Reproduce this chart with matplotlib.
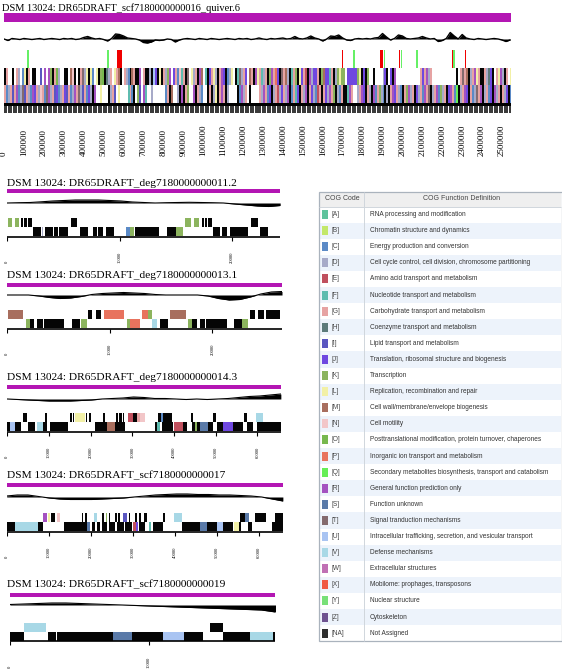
import numpy as np
import matplotlib
matplotlib.use('Agg')
import matplotlib.pyplot as plt
from matplotlib.patches import Rectangle

W, H = 567, 669
SERIF = 'Liberation Serif'
SANS = 'Liberation Sans'
MAGENTA = '#b316b3'

# ---- COG legend ----
cog_codes = ['A', 'B', 'C', 'D', 'E', 'F', 'G', 'H', 'I', 'J', 'K', 'L', 'M', 'N',
             'O', 'P', 'Q', 'R', 'S', 'T', 'U', 'V', 'W', 'X', 'Y', 'Z', 'NA']
cog_names = ['RNA processing and modification',
             'Chromatin structure and dynamics',
             'Energy production and conversion',
             'Cell cycle control, cell division, chromosome partitioning',
             'Amino acid transport and metabolism',
             'Nucleotide transport and metabolism',
             'Carbohydrate transport and metabolism',
             'Coenzyme transport and metabolism',
             'Lipid transport and metabolism',
             'Translation, ribosomal structure and biogenesis',
             'Transcription',
             'Replication, recombination and repair',
             'Cell wall/membrane/envelope biogenesis',
             'Cell motility',
             'Posttranslational modification, protein turnover, chaperones',
             'Inorganic ion transport and metabolism',
             'Secondary metabolites biosynthesis, transport and catabolism',
             'General function prediction only',
             'Function unknown',
             'Signal tranduction mechanisms',
             'Intracellular trafficking, secretion, and vesicular transport',
             'Defense mechanisms',
             'Extracellular structures',
             'Mobilome: prophages, transposons',
             'Nuclear structure',
             'Cytoskeleton',
             'Not Assigned']
cog_colors = ['#5fc39c', '#c3e86a', '#5b8ac6', '#a7aac8', '#c0505e', '#5fbcb0',
              '#e6a3a3', '#5d7b7b', '#5a56c0', '#6f48e0', '#8cb45e', '#f2f0a6',
              '#a86e5e', '#f2c6c8', '#78b84e', '#e8735e', '#66ee55', '#a452c0',
              '#5a7aa8', '#846a6e', '#a9c4f2', '#a8d8e6', '#c070b4', '#f05a44',
              '#78e078', '#6e5290', '#2e2e2e']
color_of = dict(zip(cog_codes, cog_colors))
color_of['NA'] = '#050505'   # genes without COG are drawn black in the tracks
color_of['#'] = color_of['NA']

# ---- main contig (one character = one 10 kb bin, '.' = no gene, '#' = NA) ----
main_title = 'DSM 13024: DR65DRAFT_scf7180000000016_quiver.6'
main_len = 2545000
main_bin = 10000
main_fwd = ("#G..#.GD.C" "L#G.##..I." "R.RK#GOD.." "##.MN#.#GT" "DL#LC.L#KO"
            "#HDG.LGM#." "GDC#MG##R." "G##D#UJ#L#" "GDKR.JGCNF" "G#T.LDG#RM"
            ".F#JGLD#GR" "J#CDL.#FTD" "GJ.MG#RLGF" "DG#KRGPJ#T" "GMD#FGK#LJ"
            "GE#RDJJG#K" "MJJFG#DKLK" "K.JJJJJKL#" "J#K..#...." "DJ#.J#R..."
            ".........G" "JGRDG....." ".......#.G" "TGM#DGRLG#" "#GDHJ#.GLR"
            "D#G.L")
main_rev = ("GCDGIGRCDT" "IGDCRJGDNG" "CTRDGIJCDG" "JIGCDRGTDI" "GCJD#R..L."
            "..#DGI.L.." "..FGC#.KI." "RF..D....." ".CG#M..D#R" "#GK..R#GDC"
            "..#G#DL#GR" "G#D....#CR" "DG.#....GD" "RGCJ#DGEDJ" "GDR#CGFJ#G"
            "DR#GJDCEG#" "GJDRGK#DCG" "##FRG..DGR" "J#GD#RCGKD" "C#D#GRJGDC"
            "#GKRDG#JDG" "CRGT#DGRCK" "DG#JRGCQ#D" "GRJ#GCDTGR" "#DGCJ#RDG#"
            "GDJ#C")
main_skew_bin = 20000
main_skew = [0, -1.5, 0.5, 0, -0.5, 0.5, 0, -0.5, 0, 0.5, -0.5, 0, 0.5, 0, -0.5, 0.5,
             0, 0.5, -0.5, 0, 1.5, 2.5, 1, 0, 0.5, -0.5, -2, 0.5, 5, 4.5, 3, 1, 0.5, 0,
             -1, -3.5, -4, -3, -1, -1.5, -1, 0, -0.5, -3, -1, 0, 0.5, 0, -0.5, 0.5, 0,
             -0.5, 0.5, 0, -0.5, 0, 0.5, 0, -0.5, 0.5, 0, 0.5, -0.5, 0, 1, 0, -0.5, 0.5,
             0, 0.5, 1, 0, 0.5, 2.5, 0.5, 0, 1, 3, 1, 0, -2, 0, 3, 2.5, 4, 1, -1, -1.5,
             0, 0.5, 0, 0.5, 0, 1, 1.5, 5.5, 2, -1, 0.5, 4, 3, 0.5, 0, 0.5, 1, 2.5, 1,
             0, 0.5, -2.5, -1.5, 0.5, 6.5, 3, 0, 4.5, 1, 0, -0.5, 0.5, 0, -0.5, 0, 0.5,
             0, -1, -2.5, -1]
rna_start = [113000, 515000, 565000, 1697000, 1750000, 1886000, 1906000, 1981000,
             1991000, 2066000, 2247000, 2253000, 2312000]
rna_size = [10000, 10000, 25000, 7000, 10000, 17000, 9000, 7000, 9000, 10000, 7000, 9000, 7000]
rna_kind = ['t', 't', 'r', 'r', 't', 'r', 't', 'r', 't', 't', 'r', 't', 'r']
main_label_step = 100000

# ---- small contigs: (start_kb, end_kb, cog) ----
small_titles = ['DSM 13024: DR65DRAFT_deg7180000000011.2',
                'DSM 13024: DR65DRAFT_deg7180000000013.1',
                'DSM 13024: DR65DRAFT_deg7180000000014.3',
                'DSM 13024: DR65DRAFT_scf7180000000017',
                'DSM 13024: DR65DRAFT_scf7180000000019']
small_len_kb = [24.3, 26.8, 65.6, 65.6, 19.1]

genes_plus_1 = [(0.06, 0.42, 'K'), (0.69, 1.04, 'K'), (1.22, 1.40, 'NA'), (1.49, 1.75, 'NA'),
                (1.84, 2.20, 'NA'), (5.67, 6.20, 'NA'), (15.8, 16.4, 'K'), (16.6, 17.06, 'K'),
                (17.33, 17.5, 'NA'), (17.6, 17.8, 'NA'), (17.9, 18.2, 'NA'), (21.7, 22.3, 'NA')]
genes_minus_1 = [(2.29, 3.0, 'NA'), (3.09, 3.18, 'D'), (3.36, 4.07, 'NA'), (4.16, 4.51, 'NA'),
                 (4.6, 5.4, 'NA'), (6.47, 7.18, 'NA'), (7.63, 7.98, 'NA'), (8.07, 8.52, 'NA'),
                 (8.78, 9.5, 'NA'), (10.56, 10.92, 'C'), (10.92, 11.28, 'K'), (11.37, 13.5, 'NA'),
                 (14.2, 15.0, 'NA'), (15.0, 15.64, 'K'), (18.3, 18.9, 'NA'), (19.1, 19.56, 'NA'),
                 (19.8, 21.4, 'NA'), (22.5, 23.2, 'NA')]
genes_plus_2 = [(0.07, 1.53, 'M'), (7.9, 8.26, 'NA'), (8.65, 9.14, 'NA'), (9.45, 11.4, 'P'),
                (13.1, 13.7, 'P'), (13.7, 14.1, 'K'), (15.9, 17.4, 'M'), (23.7, 24.2, 'NA'),
                (24.5, 25.0, 'NA'), (25.2, 26.6, 'NA')]
genes_minus_2 = [(1.82, 2.2, 'K'), (2.2, 2.6, 'NA'), (2.9, 3.5, 'NA'), (3.6, 5.5, 'NA'),
                 (6.3, 7.1, 'NA'), (7.2, 7.8, 'K'), (11.7, 12.0, 'K'), (12.0, 12.95, 'P'),
                 (14.1, 14.6, 'V'), (14.9, 15.7, 'NA'), (17.6, 18.0, 'K'), (18.0, 18.5, 'NA'),
                 (18.8, 19.3, 'NA'), (19.4, 21.4, 'NA'), (22.1, 22.9, 'NA'), (22.9, 23.5, 'K')]
genes_plus_3 = [(3.8, 4.7, 'NA'), (9.0, 9.5, 'NA'), (15.0, 15.5, 'NA'), (15.7, 16.0, 'NA'),
                (16.2, 18.6, 'L'), (18.9, 19.2, 'NA'), (19.6, 20.1, 'NA'), (23.0, 23.5, 'NA'),
                (26.1, 26.6, 'NA'), (26.8, 27.5, 'NA'), (27.7, 28.0, 'NA'), (29.0, 30.2, 'E'),
                (30.2, 31.2, 'NA'), (31.2, 31.8, 'G'), (31.8, 33.0, 'N'), (36.1, 36.8, 'NA'),
                (36.8, 37.3, 'C'), (37.3, 39.5, 'NA'), (44.0, 44.6, 'NA'), (49.3, 50.0, 'NA'),
                (56.8, 57.5, 'NA'), (59.6, 61.3, 'V')]
genes_minus_3 = [(0.0, 0.65, 'NA'), (0.65, 1.85, 'U'), (1.85, 3.4, 'NA'), (5.0, 6.6, 'NA'),
                 (7.1, 8.6, 'V'), (8.6, 9.5, 'NA'), (10.2, 14.6, 'NA'), (21.0, 23.9, 'NA'),
                 (23.9, 25.8, 'M'), (25.8, 28.2, 'NA'), (35.5, 35.9, 'NA'), (36.0, 36.5, 'F'),
                 (37.0, 39.7, 'NA'), (40.0, 42.1, 'E'), (42.1, 43.1, 'NA'), (44.3, 45.0, 'NA'),
                 (45.0, 45.4, 'K'), (45.4, 46.2, 'NA'), (46.2, 48.1, 'S'), (48.1, 49.3, 'NA'),
                 (50.2, 51.7, 'NA'), (51.7, 54.1, 'J'), (54.1, 56.5, 'NA'), (57.4, 58.9, 'NA'),
                 (59.9, 65.6, 'NA')]
genes_plus_4 = [(8.6, 9.6, 'R'), (9.8, 10.3, 'L'), (10.5, 11.5, 'NA'), (11.9, 12.7, 'N'),
                (17.9, 18.2, 'NA'), (18.6, 19.1, 'NA'), (20.8, 21.4, 'V'), (22.6, 23.0, 'NA'),
                (23.6, 23.9, 'K'), (24.2, 24.5, 'NA'), (25.7, 26.3, 'NA'), (26.5, 26.9, 'NA'),
                (27.7, 28.6, 'I'), (28.7, 28.9, 'K'), (29.1, 29.4, 'NA'), (30.5, 31.0, 'NA'),
                (31.5, 31.8, 'NA'), (32.6, 33.4, 'NA'), (37.1, 37.6, 'NA'), (39.8, 41.6, 'V'),
                (55.4, 56.6, 'NA'), (56.6, 57.6, 'S'), (59.0, 61.6, 'NA'), (63.7, 65.6, 'NA')]
genes_minus_4 = [(0.0, 2.0, 'NA'), (2.0, 7.5, 'V'), (7.5, 8.6, 'NA'), (13.6, 19.0, 'NA'),
                 (19.1, 19.8, 'S'), (20.2, 21.0, 'NA'), (21.4, 22.2, 'NA'), (22.6, 23.8, 'NA'),
                 (24.2, 25.8, 'NA'), (26.2, 27.8, 'NA'), (28.2, 29.7, 'NA'), (30.0, 30.7, 'E'),
                 (30.8, 31.3, 'J'), (31.5, 32.9, 'NA'), (33.9, 34.3, 'F'), (34.8, 37.1, 'NA'),
                 (41.6, 45.9, 'NA'), (45.9, 47.6, 'S'), (47.6, 49.9, 'NA'), (49.9, 51.4, 'U'),
                 (51.4, 53.8, 'NA'), (54.0, 55.2, 'L'), (55.2, 55.7, 'NA'), (57.3, 58.3, 'NA'),
                 (63.0, 65.6, 'NA')]
genes_plus_5 = [(1.0, 2.6, 'V'), (14.4, 15.3, 'NA')]
genes_minus_5 = [(0.0, 1.0, 'NA'), (2.7, 3.3, 'NA'), (3.4, 7.4, 'NA'), (7.4, 8.8, 'S'),
                 (8.8, 11.0, 'NA'), (11.0, 12.5, 'U'), (12.5, 13.9, 'NA'), (15.3, 17.3, 'NA'),
                 (17.3, 18.9, 'V'), (18.9, 19.1, 'NA')]

skew_1 = [0, 0.3, 0.5, 1.2, 2, 2.5, 3, 3, 3, 2.5, 2, 1, 0.5, 0, 0.3, 0.5, 0.7, 0.5, 0.3, 0,
          -1, -2, -3, -3.5, -2.5]
skew_2 = [0, 0, 0, -1, -2.5, -3.5, -3, -1.5, 0.5, 1.5, 2, 2.5, 2, 1.5, 0.5, 0, 0, 0, 0, -1,
          -3.5, -5, -4.5, -2, 1, 3, 3.5]
skew_3 = [0, -0.5, -1, -1.5, -2, -2, -2, -1.5, -1, 0, 0.5, 1, 2, 1.5, 0.5, 0.5, 0, -0.5, 0,
          -0.5, 0, 0.5, 1.5, 2.5, 3, 4, 5]
skew_4 = [1, 2, 2, 0.5, -1, -2, -2.5, -2.5, -2.5, -2, -1.5, -1, 0, 1, 2, 2.5, 3, 3, 2.5, 2.5,
          2, 2, 1.5, 1, 0, -2, -4]
skew_5 = [0.5, 1, 1.5, 2, 2, 1.5, 1, 0.5, 0, -0.5, -1, -1.5, -2, -2.5, -3, -3.5, -4, -4.5,
          -5, -7]

small_plus = [genes_plus_1, genes_plus_2, genes_plus_3, genes_plus_4, genes_plus_5]
small_minus = [genes_minus_1, genes_minus_2, genes_minus_3, genes_minus_4, genes_minus_5]
small_skew = [skew_1, skew_2, skew_3, skew_4, skew_5]

# pixel layout of the small panels: left px, px per kb, title y, magenta y, skew y, axis y
small_x0 = [7.3, 7.3, 7.3, 6.7, 10.0]
small_pxkb = [11.23, 10.25, 4.17, 4.21, 13.9]
small_title_y = [184, 275, 377, 476, 585]
small_mag_y = [189, 283, 385, 483, 593]
small_skew_y = [203, 295, 399, 497, 605]
small_axis_y = [236, 328, 431, 531, 641]


fig = plt.figure(figsize=(W / 100, H / 100), dpi=100)


def px_axes(x0, y0, x1, y1):
    ax = fig.add_axes([x0 / W, 1 - y1 / H, (x1 - x0) / W, (y1 - y0) / H])
    ax.set_ylim(y1, y0)
    ax.set_axis_off()
    return ax


def add_track(ax, codes, bin_size, y, h):
    for i, c in enumerate(codes):
        if c == '.':
            continue
        ax.broken_barh([(i * bin_size, bin_size)], (y, h), facecolors=color_of[c],
                       edgecolor='none')


# ---- main contig panel ----
fig.text(2 / W, 1 - 8 / H, main_title, fontsize=7.5, family=SERIF, va='center')
ax = px_axes(4, 0, 511, 160)
ax.set_xlim(0, main_len)
ax.broken_barh([(0, main_len)], (13, 8.5), facecolors=MAGENTA)

xs = np.arange(len(main_skew)) * main_skew_bin
ys = 39 - np.array(main_skew)
ax.fill_between(xs, 39, ys, color='black', lw=0)
ax.plot(xs, ys, color='black', lw=1.0)

for s, w, k in zip(rna_start, rna_size, rna_kind):
    ax.broken_barh([(s, w)], (50, 18), facecolors='#66f066' if k == 't' else '#f00000')

add_track(ax, main_fwd, main_bin, 68, 17)
add_track(ax, main_rev, main_bin, 85, 17.5)

ax.broken_barh([(0, main_len)], (102.5, 3.5), facecolors='black')
ax.vlines(np.arange(0, main_len, 12500), 105, 113, color='black', lw=1.1)
for v in np.arange(0, main_len, main_label_step):
    ax.text(v, 156, str(v), rotation=90, ha='center', va='bottom', fontsize=6.5,
            family=SERIF)

# ---- small contig panels ----
for k in range(5):
    L = small_len_kb[k] * 1000
    x0 = small_x0[k]
    x1 = x0 + small_len_kb[k] * small_pxkb[k]
    ay = small_axis_y[k]
    fig.text(7 / W, 1 - small_title_y[k] / H, small_titles[k], fontsize=8.2,
             family=SERIF, va='center')
    ax = px_axes(x0, small_title_y[k] + 3, x1, ay + 30)
    ax.set_xlim(0, L)
    ax.broken_barh([(0, L)], (small_mag_y[k], 4.2), facecolors=MAGENTA)

    sk = np.array(small_skew[k])
    xs = np.linspace(0, L, len(sk))
    base = small_skew_y[k]
    ax.fill_between(xs, base, base - sk, color='black', lw=0)
    ax.plot(xs, base - sk, color='black', lw=0.8)

    for s, e, c in small_plus[k]:
        ax.broken_barh([(s * 1000, (e - s) * 1000)], (ay - 18, 9), facecolors=color_of[c])
    for s, e, c in small_minus[k]:
        ax.broken_barh([(s * 1000, (e - s) * 1000)], (ay - 9, 9), facecolors=color_of[c])

    ax.hlines(ay + 0.5, 0, L, color='black', lw=1.2)
    ticks = np.arange(0, L + 1, 10000)
    ax.vlines(ticks, ay + 0.5, ay + 4.5, color='black', lw=0.8)
    for v in ticks:
        ax.text(v, ay + 27, str(int(v)), rotation=90, ha='center', va='bottom',
                fontsize=3.3, family=SERIF)

# ---- COG legend table ----
ax = px_axes(318, 190, 562, 643)
ax.set_xlim(318, 562)
row_h = 16.1
top = 206.5
ax.add_patch(Rectangle((319, 192), 242, top - 192, facecolor='#efefef', edgecolor='none'))
for i, (code, name, col) in enumerate(zip(cog_codes, cog_names, cog_colors)):
    y = top + i * row_h
    if i % 2 == 1:
        ax.add_patch(Rectangle((319, y), 242, row_h, facecolor='#edf3fb', edgecolor='none'))
    yc = y + row_h / 2
    ax.add_patch(Rectangle((322, yc - 4.5), 6, 9, facecolor=col, edgecolor='none'))
    ax.text(331, yc, '[%s]' % code, fontsize=4.7, family=SANS, va='center', color='#444444')
    ax.text(370, yc, name, fontsize=4.7, family=SANS, va='center', color='#333333')
ax.add_patch(Rectangle((318.5, 191.5), 243, top + 27 * row_h - 191.5, facecolor='none',
                       edgecolor='#aab3bd', lw=0.9))
ax.vlines(364, 192, top + 27 * row_h, color='#d0d6dc', lw=0.7)
ax.hlines(top, 319, 561, color='#d0d6dc', lw=0.7)
ax.text(342, 199, 'COG Code', fontsize=5.0, family=SANS, ha='center', va='center',
        color='#444444')
ax.text(462, 199, 'COG Function Definition', fontsize=5.0, family=SANS, ha='center',
        va='center', color='#444444')

fig.savefig('out.png', dpi=100)
